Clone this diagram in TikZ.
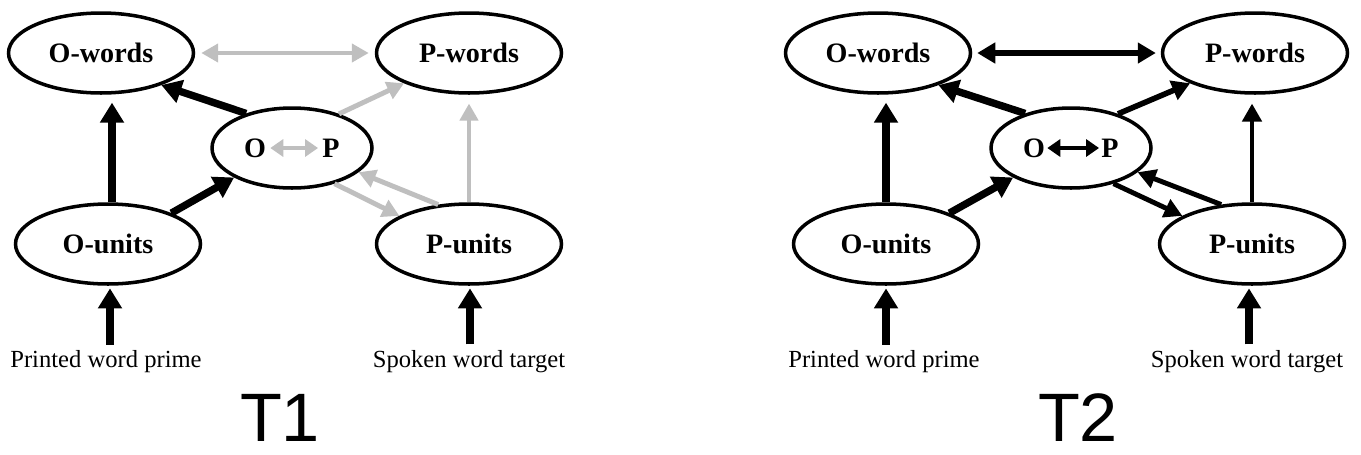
\documentclass[tikz,border=0pt]{standalone}
\usepackage{fontspec}
\setmainfont{Liberation Serif}
\newfontfamily\panelfont{Liberation Sans}
\usetikzlibrary{arrows.meta, positioning, calc, shapes.geometric}

\begin{document}
\begin{tikzpicture}[
  x=0.02cm, y=-0.02cm,
  unit/.style = {draw, ellipse, line width=2pt, inner sep=0pt, minimum width=3.7cm, minimum height=1.6cm, font=\bfseries\fontsize{16}{18}\selectfont},
  letter/.style = {inner sep=0pt, font=\bfseries\fontsize{16}{18}\selectfont},
  input/.style = {inner sep=0pt, font=\fontsize{14}{16}\selectfont},
  panel/.style = {inner sep=0pt, font=\panelfont\fontsize{39}{44}\selectfont},
  heavy/.style = {line width=4.2pt, >={Triangle[length=0.4cm, width=0.46cm]}, ->},
  medium/.style = {line width=3.2pt, >={Triangle[length=0.36cm, width=0.4cm]}, ->},
  light/.style = {line width=2.8pt, >={Triangle[length=0.36cm, width=0.38cm]}, ->},
  faint/.style = {line width=2.8pt, draw=gray!50, >={Triangle[length=0.34cm, width=0.36cm]}, ->},
  inner/.style = {line width=2.6pt, >={Triangle[length=0.26cm, width=0.34cm]}, <->}
]
  \useasboundingbox (0,0) rectangle (1361,454);

  % T1 panel
  \node[unit] (owords1) at (101,53) {O-words};
  \node[unit] (pwords1) at (469,53) {P-words};
  \node[unit, minimum width=3.2cm] (op1) at (292,148) {};
  \node[unit] (ounits1) at (108,244) {O-units};
  \node[unit] (punits1) at (469,244) {P-units};
  \node[letter] (o1) at (255,148) {O};
  \node[letter] (p1) at (331,148) {P};
  \node[input] (prime1) at (106,362) {Printed word prime};
  \node[input] (target1) at (469,362) {Spoken word target};
  \node[panel] (t1) at (280,418) {T1};

  \draw[heavy, shorten >=1.5pt] (prime1.north) ++(4,-6) coordinate (s1) -- (s1 |- ounits1.south);
  \draw[heavy, shorten >=1.5pt] (target1.north) ++(1,-6) coordinate (s2) -- (s2 |- punits1.south);
  \draw[heavy, shorten >=4.5pt] (ounits1.north) ++(4,0) coordinate (s3) -- (s3 |- owords1.south);
  \draw[heavy] (ounits1.26) -- (op1.207);
  \draw[heavy] (op1.143) -- (owords1.-28);
  \draw[faint, <->] (owords1.east) ++(6,0) -- ($(pwords1.west)+(-6,0)$);
  \draw[faint] (op1.36) -- (pwords1.205);
  \draw[faint] (op1.-40) -- (punits1.158);
  \draw[faint] (punits1.128) -- (op1.-20);
  \draw[faint, shorten >=5pt] (punits1.north) -- (punits1.north |- pwords1.south);
  \draw[inner, draw=gray!50] (o1.east) ++(4,0) -- ($(p1.west)+(-4,0)$);

  % T2 panel
  \node[unit] (owords2) at (878,53) {O-words};
  \node[unit] (pwords2) at (1255,53) {P-words};
  \node[unit, minimum width=3.2cm] (op2) at (1071,148) {};
  \node[unit] (ounits2) at (886,244) {O-units};
  \node[unit] (punits2) at (1252,244) {P-units};
  \node[letter] (o2) at (1034,148) {O};
  \node[letter] (p2) at (1110,148) {P};
  \node[input] (prime2) at (884,362) {Printed word prime};
  \node[input] (target2) at (1247,362) {Spoken word target};
  \node[panel] (t2) at (1078,418) {T2};

  \draw[heavy, shorten >=1.5pt] (prime2.north) ++(2,-6) coordinate (s4) -- (s4 |- ounits2.south);
  \draw[heavy, shorten >=1.5pt] (target2.north) ++(2,-6) coordinate (s5) -- (s5 |- punits2.south);
  \draw[heavy, shorten >=4.5pt] (ounits2.north) coordinate (s6) -- (s6 |- owords2.south);
  \draw[heavy] (ounits2.26) -- (op2.207);
  \draw[heavy] (op2.143) -- (owords2.-28);
  \draw[medium, <->] (owords2.east) ++(5,0) -- ($(pwords2.west)+(-5,0)$);
  \draw[medium] (op2.36) -- (pwords2.205);
  \draw[light] (op2.-40) -- (punits2.158);
  \draw[light] (punits2.128) -- (op2.-20);
  \draw[light, shorten >=5pt] (punits2.north) -- (punits2.north |- pwords2.south);
  \draw[inner] (o2.east) ++(2,0) -- ($(p2.west)+(-2,0)$);

\end{tikzpicture}
\end{document}
